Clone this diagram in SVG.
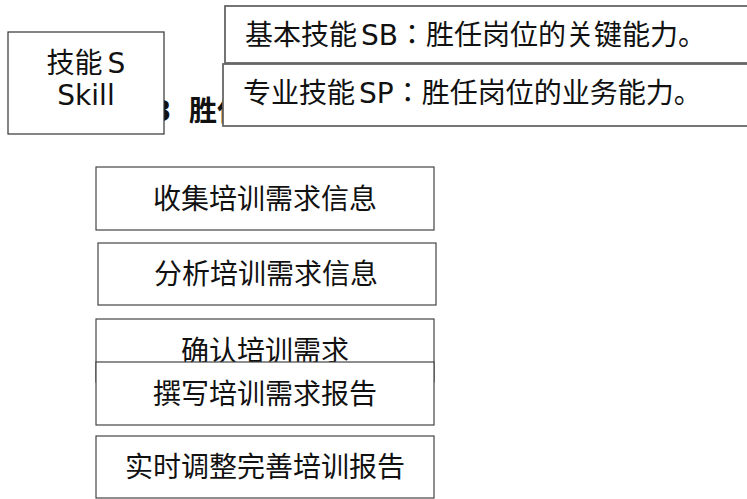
<svg xmlns="http://www.w3.org/2000/svg" width="747" height="499" viewBox="0 0 747 499">
<style>
text{font-family:"DejaVu Sans","Noto Sans CJK SC",sans-serif;font-size:28px;fill:#111}
.jp{font-family:"DejaVu Sans","Noto Sans CJK JP",sans-serif}
.hid{font-weight:bold}
.mid{text-anchor:middle}
.b1{fill:#fff;stroke:#333;stroke-width:1.2}
.b2{fill:#fff;stroke:#666;stroke-width:1.8}
.b3{fill:#fff;stroke:#444;stroke-width:1.2}
</style>
<rect width="747" height="499" fill="#fff"/>
<text class="hid"><tspan x="152" y="121">3</tspan><tspan x="189" y="121">胜任</tspan></text>
<g id="skill">
<rect class="b1" x="8" y="32" width="156" height="102"/>
<text class="mid" x="86" y="73">技能<tspan dx="5">S</tspan></text>
<text class="mid" x="86" y="105">Skill</text>
</g>
<g id="sb">
<rect class="b2" x="225" y="6" width="540" height="57"/>
<text class="jp" x="245" y="45">基本技能<tspan dx="4">SB</tspan>：胜任岗位的关键能力。</text>
</g>
<g id="sp">
<rect class="b2" x="223" y="64" width="540" height="62"/>
<text class="jp" x="243" y="103">专业技能<tspan dx="4">SP</tspan>：胜任岗位的业务能力。</text>
</g>
<g id="connectors"></g>
<g id="n1">
<rect class="b3" x="96" y="167" width="338" height="63"/>
<text class="mid" x="265" y="209">收集培训需求信息</text>
</g>
<g id="n2">
<rect class="b3" x="98" y="243" width="338" height="62"/>
<text class="mid" x="266" y="284">分析培训需求信息</text>
</g>
<g id="n3">
<rect class="b3" x="96" y="319" width="338" height="63"/>
<text class="mid" x="265" y="361">确认培训需求</text>
</g>
<g id="n4">
<rect class="b3" x="96" y="362" width="338" height="63"/>
<text class="mid" x="265" y="404">撰写培训需求报告</text>
</g>
<g id="n5">
<rect class="b3" x="96" y="436" width="338" height="62"/>
<text class="mid" x="265" y="477">实时调整完善培训报告</text>
</g>
</svg>
